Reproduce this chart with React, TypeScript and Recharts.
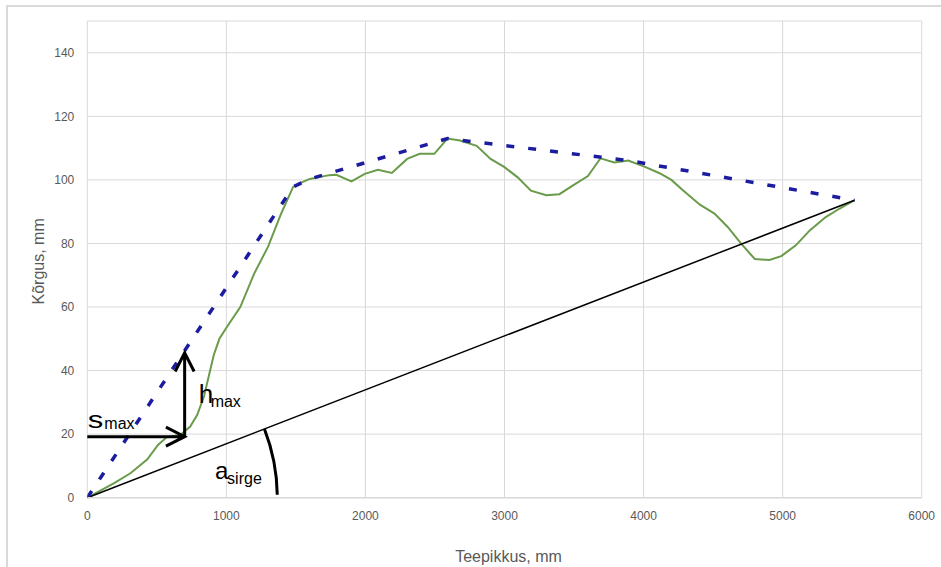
import React from 'react';
import { LineChart, Line, XAxis, YAxis, CartesianGrid, ReferenceLine, Label } from 'recharts';

// Road profile (Teepikkus, mm -> Kõrgus, mm)
const profileX = [0, 190, 310, 430, 510, 570, 670, 740, 790, 840, 875, 910, 950, 1000, 1100, 1200, 1300, 1390, 1480, 1530, 1600, 1740, 1790, 1900, 1995, 2090, 2190, 2300, 2390, 2495, 2590, 2680, 2800, 2900, 3000, 3095, 3190, 3300, 3395, 3490, 3600, 3690, 3790, 3890, 4015, 4115, 4200, 4285, 4405, 4510, 4605, 4700, 4800, 4905, 4990, 5095, 5195, 5310, 5410, 5517];
const profileY = [0, 4.5, 7.7, 12, 16.7, 19, 19.8, 22.4, 26, 32, 38.5, 45, 50, 53.5, 60, 70.5, 79, 89, 97.8, 99, 100.3, 101.5, 101.6, 99.5, 101.9, 103.2, 102.2, 106.6, 108.2, 108.2, 113, 112.4, 110.7, 106.6, 104, 100.8, 96.6, 95.2, 95.5, 98.2, 101.2, 106.8, 105.5, 106.1, 104, 102.1, 100, 96.7, 92.2, 89.4, 85.2, 80, 75.1, 74.8, 76, 79.4, 84.1, 88.3, 91, 93.6];

// Upper envelope (dashed)
const hullX = [0, 1480, 1600, 2590, 3890, 5517];
const hullY = [0, 97.8, 100.3, 113, 106.1, 93.6];

// Annotation arrows
const sMaxX = [0, 700];
const sMaxY = 19.2;
const hMaxY = [19.2, 45.6];
const hMaxX = 700;

const xTicks = [0, 1000, 2000, 3000, 4000, 5000, 6000];
const yTicks = [0, 20, 40, 60, 80, 100, 120, 140];

const FONT = '"Liberation Sans", Arial, sans-serif';
const GRID = '#d9d9d9';
const TICK = '#595959';

const profile = profileX.map((x, i) => ({ x, y: profileY[i] }));
const hull = hullX.map((x, i) => ({ x, y: hullY[i] }));

function arrowPath(x1: number, y1: number, x2: number, y2: number) {
  const ang = Math.atan2(y2 - y1, x2 - x1);
  const len = 21;
  const spread = 0.47;
  const ax = x2 - len * Math.cos(ang - spread);
  const ay = y2 - len * Math.sin(ang - spread);
  const bx = x2 - len * Math.cos(ang + spread);
  const by = y2 - len * Math.sin(ang + spread);
  return `M${x1},${y1}L${x2},${y2}M${ax},${ay}L${x2},${y2}L${bx},${by}`;
}

const SArrow = (p: any) => (
  <g>
    <path d={arrowPath(p.x1, p.y1, p.x2, p.y2)} stroke="#000" strokeWidth={3} fill="none" />
    <text x={p.x1 + 0.5} y={p.y1 - 8.4} fontSize={23} fontFamily={FONT} fill="#000" textLength={15.5} lengthAdjust="spacingAndGlyphs">s</text>
    <text x={p.x1 + 17} y={p.y1 - 7.4} fontSize={16} fontFamily={FONT} fill="#000">max</text>
  </g>
);

const HArrow = (p: any) => (
  <g>
    <path d={arrowPath(p.x1, p.y1, p.x2, p.y2)} stroke="#000" strokeWidth={3} fill="none" />
    <text x={p.x1 + 14} y={p.y1 - 33.4} fontSize={26} fontFamily={FONT} fill="#000">h</text>
    <text x={p.x1 + 26} y={p.y1 - 30} fontSize={16} fontFamily={FONT} fill="#000">max</text>
  </g>
);

const Chord = (p: any) => {
  const r = 190;
  const t0 = Math.atan2(p.y1 - p.y2, p.x2 - p.x1);
  const t1 = 0.015;
  const ax = p.x1 + r * Math.cos(t0);
  const ay = p.y1 - r * Math.sin(t0);
  const bx = p.x1 + r * Math.cos(t1);
  const by = p.y1 - r * Math.sin(t1);
  return (
    <g>
      <line x1={p.x1} y1={p.y1} x2={p.x2} y2={p.y2} stroke="#000" strokeWidth={1.5} />
      <path d={`M${ax},${ay}A${r},${r} 0 0 1 ${bx},${by}`} stroke="#000" strokeWidth={3} fill="none" />
      <text x={p.x1 + 127.7} y={p.y1 - 18.4} fontSize={24} fontFamily={FONT} fill="#000">a</text>
      <text x={p.x1 + 139.8} y={p.y1 - 13.7} fontSize={16} fontFamily={FONT} fill="#000">sirge</text>
    </g>
  );
};

const XTitle = (props: any) => {
  const vb = props.viewBox;
  return (
    <text x={vb.x + vb.width / 2 + 4} y={vb.y + 64} textAnchor="middle" fontSize={16} fontFamily={FONT} fill={TICK}>
      Teepikkus, mm
    </text>
  );
};

const YTitle = (props: any) => {
  const vb = props.viewBox;
  const cx = 44;
  const cy = vb.y + vb.height / 2 + 2;
  return (
    <text x={cx} y={cy} textAnchor="middle" fontSize={16} fontFamily={FONT} fill={TICK} transform={`rotate(-90, ${cx}, ${cy})`}>
      Kõrgus, mm
    </text>
  );
};

export default function App() {
  return (
    <div style={{ position: 'absolute', left: 0, top: 0, width: 941, height: 567, overflow: 'hidden', background: '#fff' }}>
      <div style={{ position: 'absolute', left: 6, top: 5, width: 1200, height: 1200, borderLeft: `2px solid ${GRID}`, borderTop: `2px solid ${GRID}` }} />
      <div style={{ position: 'absolute', left: 0, top: 0 }}>
        <LineChart width={941} height={567} margin={{ top: 21, right: 19.3, bottom: 39.3, left: 27.3 }}>
          <CartesianGrid stroke={GRID} strokeWidth={1} />
          <XAxis
            type="number"
            dataKey="x"
            domain={[0, 6000]}
            ticks={xTicks}
            allowDataOverflow
            height={30}
            tickLine={false}
            tickSize={6}
            tickMargin={8}
            axisLine={{ stroke: GRID, strokeWidth: 1.5 }}
            tick={{ fill: TICK, fontSize: 12, fontFamily: FONT }}
          >
            <Label content={XTitle} />
          </XAxis>
          <YAxis
            type="number"
            dataKey="y"
            domain={[0, 150]}
            ticks={yTicks}
            allowDataOverflow
            width={60}
            tickLine={false}
            axisLine={false}
            tickSize={6}
            tickMargin={7}
            tick={{ fill: TICK, fontSize: 12, fontFamily: FONT }}
          >
            <Label content={YTitle} />
          </YAxis>
          <Line data={profile} dataKey="y" type="linear" stroke="#6a9b4a" strokeWidth={2} dot={false} activeDot={false} isAnimationActive={false} />
          <ReferenceLine
            segment={[{ x: profileX[0], y: profileY[0] }, { x: profileX[profileX.length - 1], y: profileY[profileY.length - 1] }]}
            shape={Chord}
          />
          <Line data={hull} dataKey="y" type="linear" stroke="#1c1ca0" strokeWidth={3.5} strokeDasharray="8 14" dot={false} activeDot={false} isAnimationActive={false} />
          <ReferenceLine segment={[{ x: sMaxX[0], y: sMaxY }, { x: sMaxX[1], y: sMaxY }]} shape={SArrow} />
          <ReferenceLine segment={[{ x: hMaxX, y: hMaxY[0] }, { x: hMaxX, y: hMaxY[1] }]} shape={HArrow} />
        </LineChart>
      </div>
    </div>
  );
}
